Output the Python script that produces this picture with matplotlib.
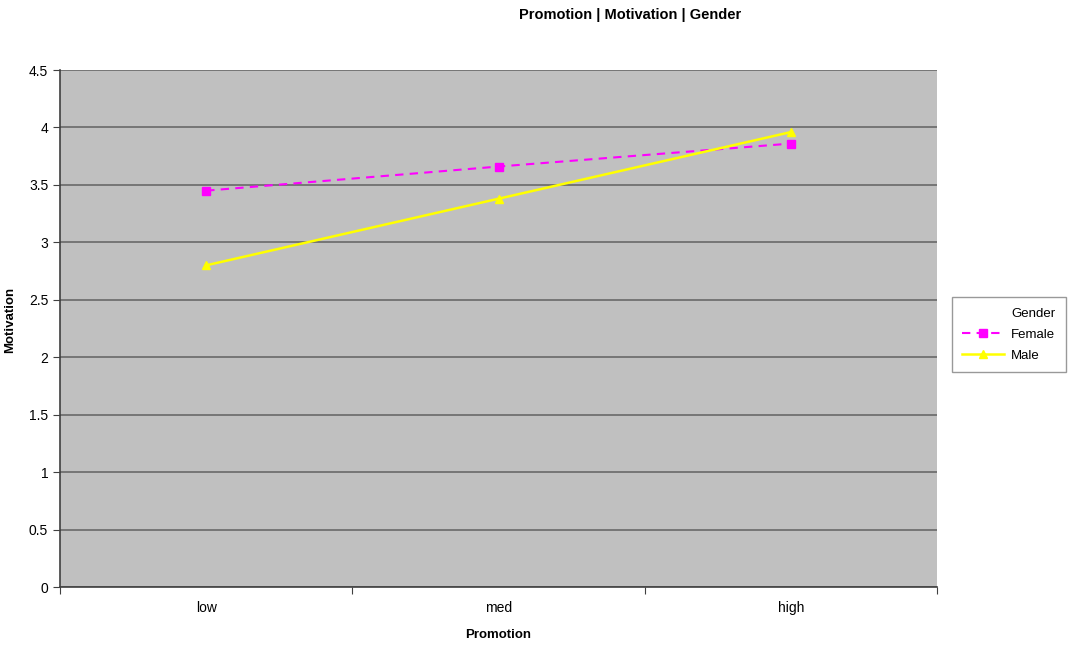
import matplotlib
matplotlib.use("Agg")
import matplotlib.pyplot as plt
import numpy as np

# Mean motivation by promotion level, split by gender
promotion = ["low", "med", "high"]
female = [3.45, 3.66, 3.86]
male = [2.80, 3.38, 3.96]

plt.rcParams['font.family'] = ['Liberation Sans', 'DejaVu Sans']

fig = plt.figure(figsize=(10.91, 6.46), dpi=100)
ax = fig.add_axes([0.055, 0.0913, 0.804, 0.8003])
ax.set_facecolor("#C0C0C0")

x = np.arange(len(promotion))
ax.plot(x, female, color="#FF00FF", linestyle=(0, (4, 3)), linewidth=1.5,
        marker="s", markersize=6, label="Female")
ax.plot(x, male, color="#FFFF00", linestyle="-", linewidth=1.8,
        marker="^", markersize=6, label="Male")

ax.set_xlim(-0.5, 2.5)
ax.set_ylim(0, 4.5)
ax.set_yticks(np.arange(0, 4.51, 0.5))
ax.set_yticklabels(["0", "0.5", "1", "1.5", "2", "2.5", "3", "3.5", "4", "4.5"])
ax.yaxis.grid(True, color="#707070", linewidth=1.3)
ax.set_axisbelow(True)

# category labels sit between the tick marks
ax.set_xticks([-0.5, 0.5, 1.5, 2.5])
ax.set_xticklabels([])
ax.set_xticks(x, minor=True)
ax.set_xticklabels(promotion, minor=True)
ax.tick_params(axis="x", which="minor", length=0, pad=10)
ax.tick_params(axis="both", which="major", length=5, color="#404040", labelsize=10)
ax.tick_params(axis="x", which="minor", labelsize=10)

for side in ["top", "right"]:
    ax.spines[side].set_visible(False)
for side in ["left", "bottom"]:
    ax.spines[side].set_color("#404040")
    ax.spines[side].set_linewidth(1.2)

ax.set_xlabel("Promotion", fontsize=9.5, fontweight="bold", labelpad=10)
fig.text(0.0095, 0.505, "Motivation", rotation=90, ha="center", va="center",
         fontsize=9.5, fontweight="bold")
fig.text(0.578, 0.977, "Promotion | Motivation | Gender", ha="center", va="center",
         fontsize=10.5, fontweight="bold")

leg = ax.legend(title="Gender", loc="upper left", bbox_to_anchor=(1.009, 0.573),
                frameon=True, fancybox=False, fontsize=9.5, title_fontsize=9.5,
                handlelength=3.2, borderpad=0.8, labelspacing=0.65,
                handletextpad=0.5)
leg.get_frame().set_edgecolor("#808080")
leg.get_frame().set_linewidth(1.0)
leg._legend_box.align = "right"

fig.savefig("out.png", dpi=100)
